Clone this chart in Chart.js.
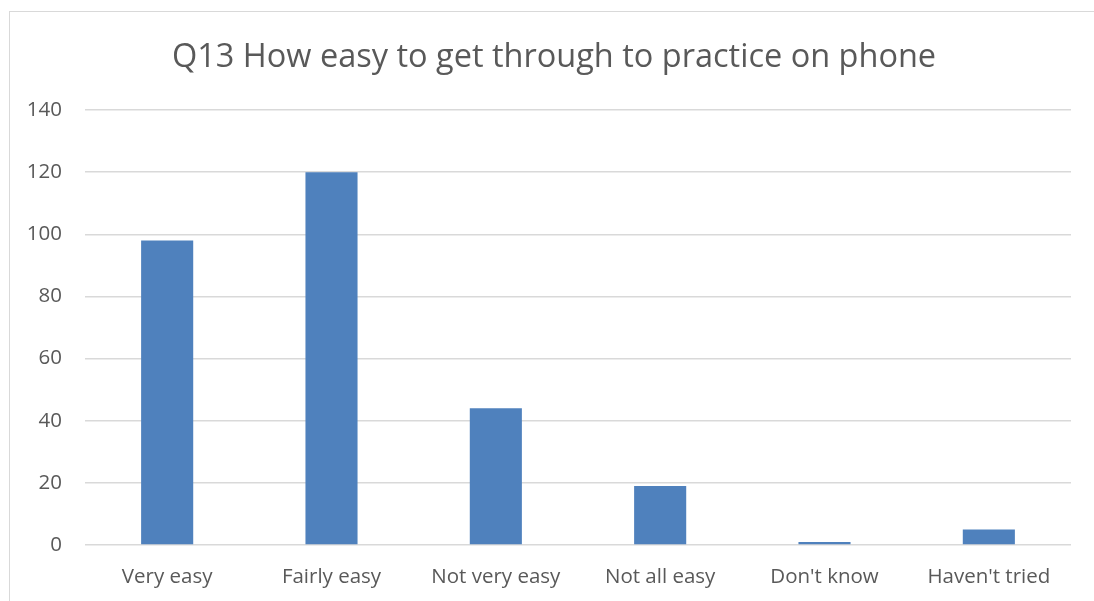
<html>
<head>
<meta charset="UTF-8">
<title>Q13 How easy to get through to practice on phone</title>
<style>
body {
    margin: 0;
    padding: 0;
    background: white;
    overflow: hidden;
}
div.frame {
    position: absolute;
    left: 9px;
    top: 11px;
    width: 1100px;
    height: 600px;
    border-left: 1px solid #d9d9d9;
    border-top: 1px solid #d9d9d9;
}
div.chart {
    position: absolute;
    left: 0;
    top: 0;
    width: 1094px;
    height: 601px;
}
</style>
<script src="https://cdnjs.cloudflare.com/ajax/libs/Chart.js/4.4.1/chart.umd.min.js"></script>
</head>
<body>
<div class="frame"></div>
<div class="chart"><canvas id="canvas" width="1094" height="601"></canvas></div>
</body>
<script>
const categories = ["Very easy", "Fairly easy", "Not very easy", "Not all easy", "Don't know", "Haven't tried"]
const counts = [98, 120, 44, 19, 1, 5]
const yTicks = [0, 20, 40, 60, 80, 100, 120, 140]

const grey = "#595959"
const font = "'Open Sans', 'Noto Sans', sans-serif"

const ctx = document.getElementById("canvas").getContext("2d")
const chart = new Chart(ctx, {
    type: "bar",
    data: {
        labels: categories,
        datasets: [{
            data: counts,
            backgroundColor: "#4f81bd",
            barPercentage: 0.317,
            categoryPercentage: 1.0,
        }],
    },
    options: {
        responsive: false,
        animation: false,
        layout: {padding: {left: 25, right: 11, top: 0, bottom: 0}},
        plugins: {
            legend: {display: false},
            tooltip: {enabled: false},
            title: {
                display: true,
                text: "Q13 How easy to get through to practice on phone",
                color: grey,
                font: {family: font, size: 32.5, weight: "normal", lineHeight: 1.2},
                padding: {top: 38, bottom: 33},
            },
        },
        scales: {
            x: {
                grid: {display: false, drawTicks: false},
                border: {display: false},
                ticks: {color: grey, font: {family: font, size: 20.5}, padding: 20, maxRotation: 0},
                afterFit: (scale) => { scale.height = 56 },
            },
            y: {
                min: 0,
                max: 140,
                afterBuildTicks: (scale) => { scale.ticks = yTicks.map(v => ({value: v})) },
                grid: {color: "#d9d9d9", lineWidth: 1.5, drawTicks: false},
                border: {display: false},
                ticks: {color: grey, font: {family: font, size: 20.5}, padding: 23},
                afterFit: (scale) => { scale.width = 60 },
            },
            // empty spacer on the right so the title centre sits where the original has it
            spacer: {
                type: "linear",
                position: "right",
                grid: {display: false, drawTicks: false},
                border: {display: false},
                ticks: {display: false},
                afterFit: (scale) => { scale.width = 12 },
            },
        },
    },
})
</script>
</html>
